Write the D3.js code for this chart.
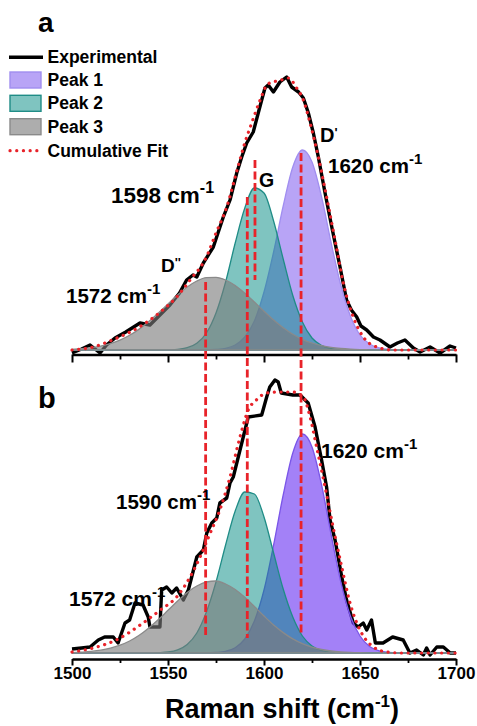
<!DOCTYPE html>
<html><head><meta charset="utf-8">
<script src="https://cdn.jsdelivr.net/npm/d3@7"></script>
<style>html,body{margin:0;padding:0;background:#fff;}svg{display:block;font-family:"Liberation Sans",Arial,sans-serif;}</style>
</head><body>
<svg id="c" width="477" height="726"></svg>
<script>
// ---------- data ----------
const shifts = [1500,1505,1510,1515,1520,1525,1530,1535,1540,1545,1550,1555,1560,1565,1570,1575,1580,1585,1590,1595,1600,1605,1610,1615,1620,1625,1630,1635,1640,1645,1650,1655,1660,1665,1670,1675,1680,1685,1690,1695,1700];
const xTicks = [1500,1550,1600,1650,1700];
const xMinorTicks = [1525,1575,1625,1675];

// panel a
const peak1A = [0,0,0,0,0,0,0,0,0,0,0,0,0,0,0,0.5,1.6,5,13,29,58,98,144,183,200,188,153,107,65,34,15,6,2,0.6,0.1,0,0,0,0,0,0];
const peak2A = [0,0,0,0,0,0,0,0,0,0,0,0.7,2.3,6.8,17,37,68,107,142,162,157,129,91,54.5,28,12,4.5,1.4,0.4,0,0,0,0,0,0,0,0,0,0,0,0];
const peak3A = [0.7,1.3,2.3,3.9,6.4,9.9,14.7,20.9,28.4,37,46,55,63,69,72.4,72.7,70,64.4,56.8,48,38.8,30,22.3,15.8,10.7,7,4.4,2.6,1.5,0.8,0.4,0.2,0,0,0,0,0,0,0,0,0];
const fitShiftA = [1500,1511,1521,1535,1546,1554.5,1561.5,1570,1575,1580.6,1586,1590,1593.6,1598,1602,1609,1612.7,1617,1620.5,1624,1628.3,1632.6,1637,1641.3,1646.5,1651.7,1658.7,1667,1700];
const fitA = [0,3,10,23,38,53,70,93,117,143,180,207,227,250,266,270,272,262,250,227,193,153,110,67,33,13,3,0,0];
const expShiftA = [1500,1505,1509.4,1514.6,1518,1522.4,1528,1535.4,1540.6,1545.8,1551,1556,1559.7,1563,1565,1568.4,1573.6,1578.8,1582.3,1585.8,1588.4,1591,1594.4,1597,1598.8,1600.5,1602.2,1604.9,1608.3,1611.8,1614.4,1618,1620.5,1623.1,1625.7,1628.3,1631.8,1635.3,1639.6,1643,1645.5,1648.3,1650.5,1653.5,1657,1660.4,1665.6,1669.5,1673.4,1677.8,1681.3,1686.5,1691.7,1696.9,1700];
const expA = [-3,1,5,-3,5,12,18,27,25,35,45,57,70,75,73,87,103,133,150,177,193,207,218,237,250,262,265,258,268,273,263,258,252,237,217,193,157,123,83,50,40,33,24,20,13,10,3,7,10,2,-2,3,-3,4,2];

// panel b
const peak1B = [0,0,0,0,0,0,0,0,0,0,0,0,0,0,0,0.5,1.7,5.3,14,32,63,108,158,200,219,206,168,118,71,37,17,6.5,2.2,0.6,0.1,0,0,0,0,0,0];
const peak2B = [0,0,0,0,0,0,0,0,0,0.3,1,3.2,8.6,20,41,71,108,142,161,159,136,100,64,36,17,7.1,2.6,0.8,0.2,0,0,0,0,0,0,0,0,0,0,0,0];
const peak3B = [0.4,0.9,1.6,2.8,4.8,7.8,12,17.7,25,33.4,42.7,52,60.6,67,71,72,69,63.5,55.7,46.5,37,28,20.4,14.1,9.3,5.9,3.5,2,1.1,0.6,0.3,0.1,0,0,0,0,0,0,0,0,0];
const fitShiftB = [1500,1511,1523,1537,1546,1554.5,1561.5,1566.7,1572,1577,1582.3,1587.5,1591.8,1596,1601.4,1608.3,1615,1620.5,1624,1627.4,1631.8,1636,1640.5,1644.8,1650,1657,1664,1672,1700];
const fitB = [1,5,13,30,43,56,76,96,120,143,176,216,243,253,260,261,261,256,236,206,166,126,86,50,23,6,1,0,0];
const expShiftB = [1500,1505,1509.4,1513.7,1517,1521.5,1524,1527.6,1530,1532.8,1537,1539.7,1540.6,1545.8,1546.7,1549.3,1552,1554.5,1558,1560.6,1565,1568.4,1570.2,1572.8,1575.4,1577,1580.6,1582.3,1584,1586.6,1589.2,1591.8,1598.8,1601.4,1603,1605.7,1607.4,1609,1615,1618.8,1621.4,1623,1626.6,1630,1632.6,1634.4,1637,1640.5,1643,1646.5,1649,1651.7,1653.5,1656,1658,1662,1667,1672.5,1676,1679.5,1683,1684.7,1686.5,1690,1693.4,1697,1700];
const expB = [4,5,6,13,16,16,10,30,33,50,48,36,26,26,63,66,60,65,53,63,96,103,120,130,135,150,155,170,176,196,216,236,238,256,266,273,271,260,258,258,253,250,226,193,166,133,113,76,53,30,26,30,23,33,10,10,16,13,0,3,-2,5,-2,6,6,0,0];

// peak positions (dashed markers) and their extents [top intensity in a, bottom intensity in b]
const markerPos = [1569.6, 1591.3, 1619.3];
const markerTopA = [68, 153, 197];
const markerBottomB = [16, 15, 17];
const gMarker = {pos:1595.3, top:190, bottom:70};

const legendLabels = ["Experimental","Peak 1","Peak 2","Peak 3","Cumulative Fit"];

// ---------- drawing ----------
const svg = d3.select("#c");
const FONT = '"Liberation Sans",Arial,sans-serif';
const x = d3.scaleLinear().domain([1500,1700]).range([72,456]);
const yA = d3.scaleLinear().domain([0,300]).range([350,50]);
const yB = d3.scaleLinear().domain([0,300]).range([653,353]);

const colors = {
  p1A:{fill:"#7149ed", op:0.5, stroke:"#a08ef0"},
  p1B:{fill:"#6a33f2", op:0.62, stroke:"#7a55e8"},
  p2:{fill:"#008a82", op:0.5, stroke:"#1f8c86"},
  p3:{fill:"#7a7a7a", op:0.62, stroke:"#8a8a8a"}
};
const red = "#e8232a";

function drawPanel(y, p1, p2, p3, fitS, fitV, expS, expV, c1){
  const g = svg.append("g");
  const line = d3.line().x(d=>x(d[0])).y(d=>y(d[1]));
  g.append("path").datum(d3.zip(expS, expV)).attr("d", line)
    .attr("fill","none").attr("stroke","#000").attr("stroke-width",3.4).attr("stroke-linejoin","round");
  const area = d3.area().x(d=>x(d[0])).y0(y(0)).y1(d=>y(d[1])).curve(d3.curveMonotoneX);
  [[p1,c1],[p2,colors.p2],[p3,colors.p3]].forEach(([arr,c])=>{
    g.append("path").datum(d3.zip(shifts, arr)).attr("d", area)
      .attr("fill", c.fill).attr("fill-opacity", c.op)
      .attr("stroke", c.stroke).attr("stroke-width", 1.3);
  });
  g.append("path").datum(d3.zip(fitS, fitV))
    .attr("d", d3.line().x(d=>x(d[0])).y(d=>y(d[1])).curve(d3.curveMonotoneX))
    .attr("fill","none").attr("stroke", red).attr("stroke-width",3.2)
    .attr("stroke-dasharray","0.1 6.6").attr("stroke-linecap","round");
}

drawPanel(yA, peak1A, peak2A, peak3A, fitShiftA, fitA, expShiftA, expA, colors.p1A);
drawPanel(yB, peak1B, peak2B, peak3B, fitShiftB, fitB, expShiftB, expB, colors.p1B);

function drawAxis(yPos, major, minor, labels){
  const gMaj = svg.append("g").attr("transform",`translate(0,${yPos})`)
    .call(d3.axisBottom(x).tickValues(xTicks).tickSize(major).tickSizeOuter(0)
      .tickFormat(labels ? d3.format("d") : ""));
  gMaj.select(".domain").attr("stroke","#000").attr("stroke-width",2.4);
  gMaj.selectAll(".tick line").attr("stroke","#000").attr("stroke-width",2);
  gMaj.selectAll(".tick text").attr("font-family",FONT).attr("font-weight","bold")
    .attr("font-size",17).attr("fill","#000").attr("y",8).attr("dy","0.71em");
  const gMin = svg.append("g").attr("transform",`translate(0,${yPos})`)
    .call(d3.axisBottom(x).tickValues(xMinorTicks).tickSize(minor).tickSizeOuter(0).tickFormat(""));
  gMin.select(".domain").remove();
  gMin.selectAll(".tick line").attr("stroke","#000").attr("stroke-width",1.8);
}
drawAxis(354.5, 8, 5, false);
drawAxis(659, 6.5, 4, true);

const mk = svg.append("g");
markerPos.forEach((p,i)=>{
  mk.append("line").attr("x1",x(p)).attr("x2",x(p))
    .attr("y1",yA(markerTopA[i])).attr("y2",yB(markerBottomB[i]))
    .attr("stroke",red).attr("stroke-width",2.8).attr("stroke-dasharray","8 3.5");
});
mk.append("line").attr("x1",x(gMarker.pos)).attr("x2",x(gMarker.pos))
  .attr("y1",yA(gMarker.top)).attr("y2",yA(gMarker.bottom))
  .attr("stroke",red).attr("stroke-width",2.8).attr("stroke-dasharray","8 3.5");

function label(xp, yp, main, sup, size, weight, supSize, supDy, after){
  const t = svg.append("text").attr("x",xp).attr("y",yp)
    .attr("font-family",FONT).attr("font-weight",weight||"bold").attr("font-size",size).attr("fill","#000");
  t.append("tspan").text(main);
  if(sup){
    t.append("tspan").attr("font-size",supSize).attr("dy",supDy).text(sup);
    if(after) t.append("tspan").attr("dy",-supDy).text(after);
  }
  return t;
}
label(38, 32, "a", null, 28);
label(38, 408, "b", null, 29);

const lg = svg.append("g");
const rowY = [57.3, 80, 103.3, 126.7, 150.7];
lg.append("line").attr("x1",9).attr("x2",43).attr("y1",rowY[0]).attr("y2",rowY[0]).attr("stroke","#000").attr("stroke-width",3.6);
[colors.p1A, colors.p2, colors.p3].forEach((c,i)=>{
  lg.append("rect").attr("x",10).attr("y",rowY[i+1]-8).attr("width",31).attr("height",16)
    .attr("fill",c.fill).attr("fill-opacity",c.op).attr("stroke",c.stroke).attr("stroke-width",1.4);
});
lg.append("line").attr("x1",10).attr("x2",43).attr("y1",rowY[4]).attr("y2",rowY[4])
  .attr("stroke",red).attr("stroke-width",3.2).attr("stroke-dasharray","0.1 6.6").attr("stroke-linecap","round");
legendLabels.forEach((s,i)=>{
  lg.append("text").attr("x",47.5).attr("y",rowY[i]+5.8).attr("font-family",FONT).attr("font-weight","bold")
    .attr("font-size",17.5).attr("fill","#000").text(s);
});

label(66, 303, "1572 cm", "-1", 20.5, "bold", 15, -9);
label(161, 272, "D", "''", 19, "bold", 13, -5);
label(111, 203, "1598 cm", "-1", 22.5, "bold", 16, -10);
label(259, 187, "G", null, 19.5);
label(320, 141.5, "D", "'", 20, "bold", 13, -5);
label(328, 173, "1620 cm", "-1", 20.5, "bold", 15, -9);
label(116, 509, "1590 cm", "-1", 20.5, "bold", 15, -9);
label(69, 606, "1572 cm", "-1", 21, "bold", 15, -9);
label(321, 458, "1620 cm", "-1", 21, "bold", 15, -9);

label(282, 718, "Raman shift (cm", "-1", 27, "bold", 17, -11, ")").attr("text-anchor","middle");
</script>
</body></html>
